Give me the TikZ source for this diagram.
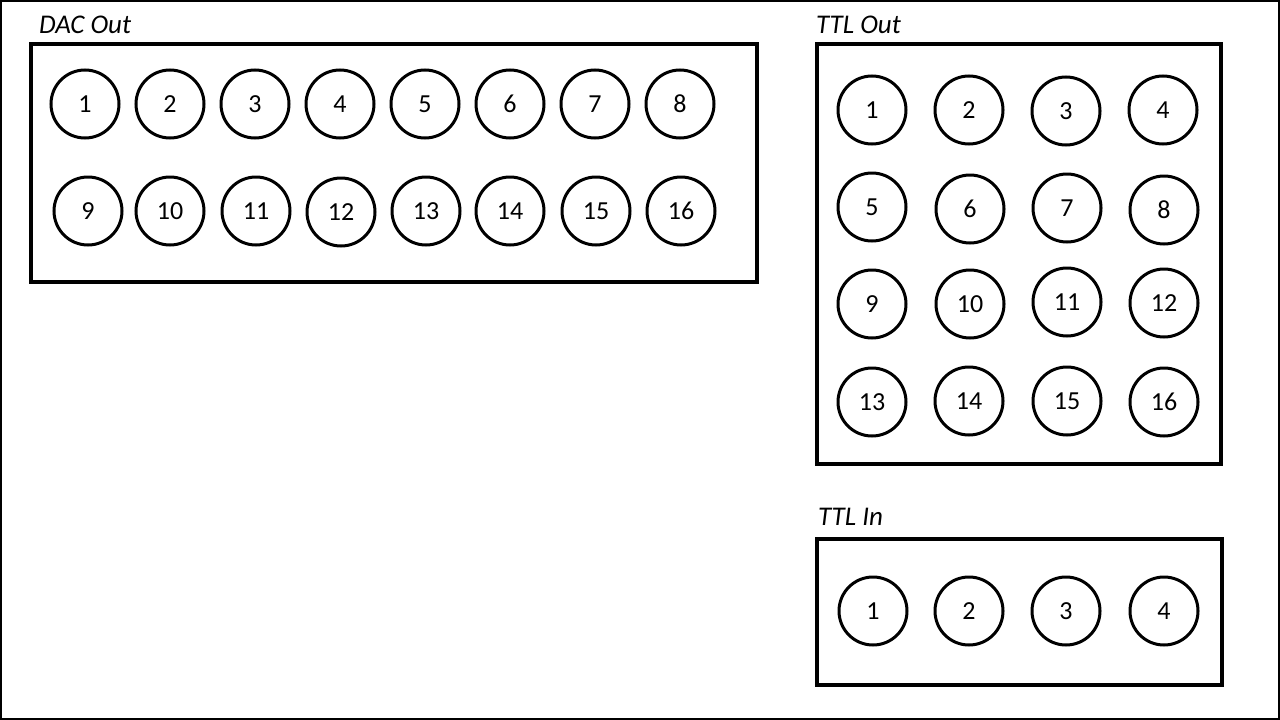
\documentclass[tikz,border=0pt]{standalone}
\usepackage{fontspec}
\setmainfont{Carlito}
\begin{document}
\begin{tikzpicture}[x=1pt,y=-1pt,
  frame/.style={draw=black,line width=1.8pt},
  panel/.style={draw=black,line width=3.6pt},
  port/.style={circle,draw=black,line width=3pt,minimum size=68pt,inner sep=0pt,font=\fontsize{26}{30}\selectfont},
  title/.style={anchor=west,inner sep=0pt,font=\fontsize{27}{31}\selectfont\itshape}]
\useasboundingbox (0,0) rectangle (1280,720);
\draw[frame] (0.9,0.9) rectangle (1279.1,719.1);
% DAC Out
\node[title] (dact) at (39,25) {DAC Out};
\draw[panel] (31,44) rectangle (757,282);
\foreach \n/\x/\y in {1/85/104,2/170/104,3/255/104,4/340/104,5/425/104,6/510/104,7/595/104,8/680/104,
  9/88/211,10/170/211,11/256/211,12/341/212,13/426/211,14/510/211,15/596/211,16/681/211}
  \node[port] (dac\n) at (\x,\y) {\n};
% TTL Out
\node[title] (ttlot) at (816,25) {TTL Out};
\draw[panel] (817,44) rectangle (1221,464);
\foreach \n/\x/\y in {1/872/110,2/969/110,3/1066/111,4/1163/110,
  5/872/207,6/970/209,7/1067/208,8/1164/210,
  9/872/304,10/970/304,11/1067/302,12/1164/303,
  13/872/402,14/969/401,15/1067/401,16/1164/402}
  \node[port] (to\n) at (\x,\y) {\n};
% TTL In
\node[title] (ttlit) at (818,517) {TTL In};
\draw[panel] (817,539) rectangle (1222,685);
\foreach \n/\x in {1/873,2/969,3/1066,4/1164}
  \node[port] (ti\n) at (\x,611) {\n};
\end{tikzpicture}
\end{document}
